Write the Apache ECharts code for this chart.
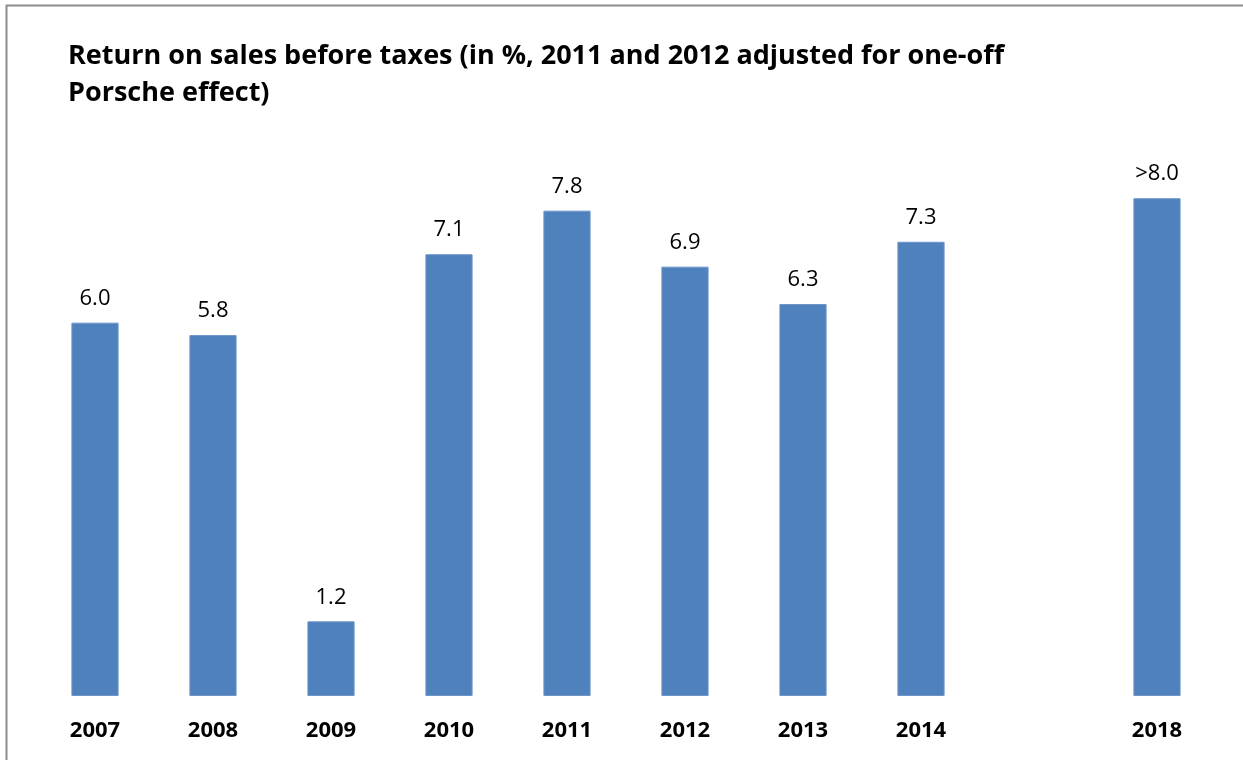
<!DOCTYPE html>
<html>
<head>
<meta charset="utf-8">
<script src="https://cdn.jsdelivr.net/npm/echarts@6/dist/echarts.min.js"></script>
<style>
  html, body { margin: 0; padding: 0; background: #fff; }
  #chart { width: 1243px; height: 760px; }
</style>
</head>
<body>
<div id="chart"></div>
<script>
// categories (one empty slot between 2014 and 2018)
const years = ["2007", "2008", "2009", "2010", "2011", "2012", "2013", "2014", "", "2018"];
const returnOnSales = [6.0, 5.8, 1.2, 7.1, 7.8, 6.9, 6.3, 7.3, null, 8.0];
const valueLabels = ["6.0", "5.8", "1.2", "7.1", "7.8", "6.9", "6.3", "7.3", "", ">8.0"];

const chart = echarts.init(document.getElementById("chart"));

chart.setOption({
  animation: false,
  textStyle: { fontFamily: "Open Sans" },
  title: {
    text: "Return on sales before taxes (in %, 2011 and 2012 adjusted for one-off\nPorsche effect)",
    left: 63,
    top: 33,
    textStyle: {
      fontFamily: "Open Sans",
      fontSize: 27,
      fontWeight: "bold",
      color: "#000",
      lineHeight: 37
    }
  },
  graphic: [
    {
      type: "rect",
      shape: { x: 6.5, y: 5.5, width: 1300, height: 800 },
      style: { fill: "none", stroke: "#8c8c8c", lineWidth: 2 },
      silent: true
    }
  ],
  grid: {
    left: 36,
    right: 27,
    top: 136,
    bottom: 64
  },
  xAxis: {
    type: "category",
    data: years,
    axisLine: { show: false },
    axisTick: { show: false },
    axisLabel: {
      margin: 24,
      fontSize: 22,
      fontWeight: "bold",
      color: "#000"
    }
  },
  yAxis: {
    type: "value",
    min: 0,
    max: 9,
    show: false,
    splitLine: { show: false }
  },
  series: [
    {
      type: "bar",
      data: returnOnSales,
      barWidth: "40%",
      itemStyle: { color: "#4f81bd", borderColor: "#6d95c8", borderWidth: 1 },
      label: {
        show: true,
        position: "top",
        distance: 13,
        fontSize: 22,
        color: "#000",
        formatter: p => valueLabels[p.dataIndex]
      }
    }
  ]
});
</script>
</body>
</html>
